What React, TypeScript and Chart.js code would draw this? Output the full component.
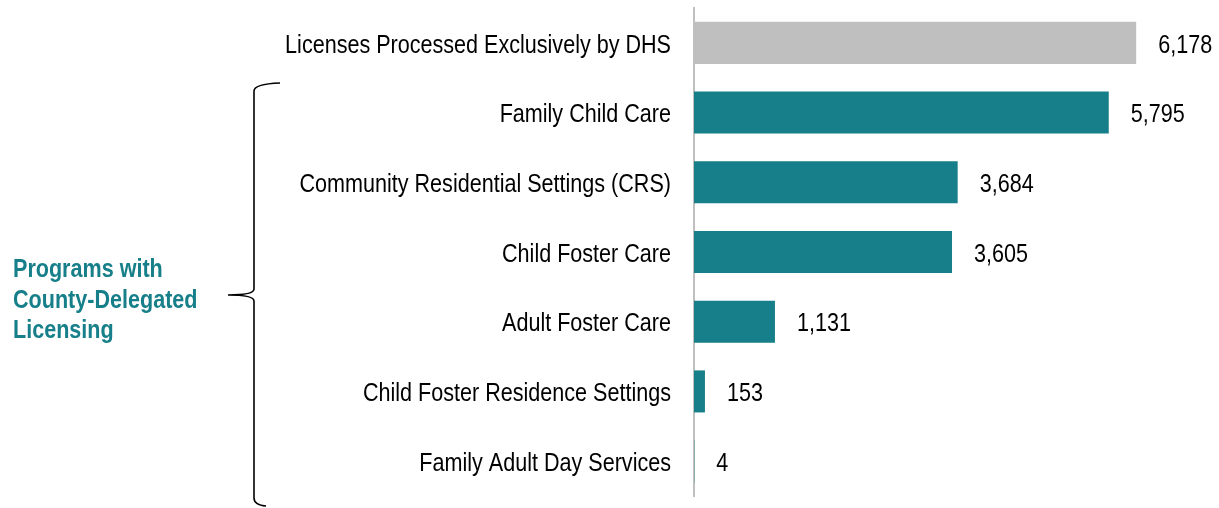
import React, { useEffect, useRef } from "react";
import { Chart, registerables } from "chart.js";

Chart.register(...registerables);

const categories = [
  "Licenses Processed Exclusively by DHS",
  "Family Child Care",
  "Community Residential Settings (CRS)",
  "Child Foster Care",
  "Adult Foster Care",
  "Child Foster Residence Settings",
  "Family Adult Day Services",
];
const values = [6178, 5795, 3684, 3605, 1131, 153, 4];
const barColors = ["#BFBFBF", "#167F89", "#167F89", "#167F89", "#167F89", "#167F89", "#167F89"];
const groupLabel = ["Programs with", "County-Delegated", "Licensing"];

const FONT = "'Liberation Sans', Arial, sans-serif";
const SIZE = 26.3;
const NARROW = 0.82;
const AXIS_X = 694;
const TICK_PAD = 23;

const overlayPlugin = {
  id: "overlay",
  afterDatasetsDraw(chart: any) {
    const ctx = chart.ctx;
    const meta = chart.getDatasetMeta(0);
    ctx.save();
    ctx.font = `${SIZE}px ${FONT}`;
    ctx.fillStyle = "#000";
    ctx.textAlign = "left";
    ctx.textBaseline = "middle";
    meta.data.forEach((bar: any, i: number) => {
      const x = bar.x + 22;
      ctx.save();
      ctx.translate(x, 0);
      ctx.scale(NARROW, 1);
      ctx.fillText(values[i].toLocaleString("en-US"), 0, bar.y + 2.5);
      ctx.restore();
    });
    // brace
    ctx.strokeStyle = "#000";
    ctx.lineWidth = 1.6;
    ctx.beginPath();
    const bx = 254;
    const top = 83;
    const bot = 506;
    const mid = 295;
    ctx.moveTo(280, top);
    ctx.quadraticCurveTo(bx, top + 1, bx, top + 8);
    ctx.lineTo(bx, mid - 6);
    ctx.quadraticCurveTo(bx, mid, 228, mid);
    ctx.quadraticCurveTo(bx, mid, bx, mid + 6);
    ctx.lineTo(bx, bot - 8);
    ctx.quadraticCurveTo(bx, bot - 1, 266, bot);
    ctx.stroke();
    // group label
    ctx.font = `bold ${SIZE}px ${FONT}`;
    ctx.fillStyle = "#167F89";
    ctx.textBaseline = "alphabetic";
    groupLabel.forEach((t, i) => {
      ctx.save();
      ctx.translate(13, 0);
      ctx.scale(NARROW, 1);
      ctx.fillText(t, 0, 277 + i * 30.5);
      ctx.restore();
    });
    ctx.restore();
  },
};

export default function App() {
  const ref = useRef<HTMLCanvasElement>(null);
  useEffect(() => {
    document.body.style.margin = "0";
    const chart = new Chart(ref.current!, {
      type: "bar",
      data: {
        labels: categories,
        datasets: [
          {
            data: values,
            backgroundColor: barColors,
            categoryPercentage: 0.603,
            barPercentage: 1,
          },
        ],
      },
      options: {
        indexAxis: "y",
        animation: false,
        responsive: false,
        layout: { padding: { top: 8, bottom: 12, right: 24, left: 0 } },
        plugins: { legend: { display: false }, tooltip: { enabled: false } },
        scales: {
          x: { display: false, min: 0, max: 7000 },
          y: {
            afterFit(scale: any) {
              scale.width = AXIS_X;
              scale.paddingTop = 0;
              scale.paddingBottom = 0;
              if (!scale.__narrow) {
                scale.__narrow = true;
                const orig = scale.drawLabels.bind(scale);
                scale.drawLabels = (area: any) => {
                  const c = scale.ctx;
                  const rx = AXIS_X - TICK_PAD;
                  c.save();
                  c.translate(rx, 2.5);
                  c.scale(NARROW, 1);
                  c.translate(-rx, 0);
                  orig(area);
                  c.restore();
                };
              }
            },
            grid: { display: false, drawTicks: false },
            border: { display: true, color: "#BFBFBF", width: 2 },
            ticks: {
              color: "#000",
              padding: TICK_PAD,
              autoSkip: false,
              font: { family: FONT, size: SIZE },
            },
          },
        },
      },
      plugins: [overlayPlugin],
    });
    return () => chart.destroy();
  }, []);
  return <canvas ref={ref} width={1219} height={508} style={{ display: "block" }} />;
}
